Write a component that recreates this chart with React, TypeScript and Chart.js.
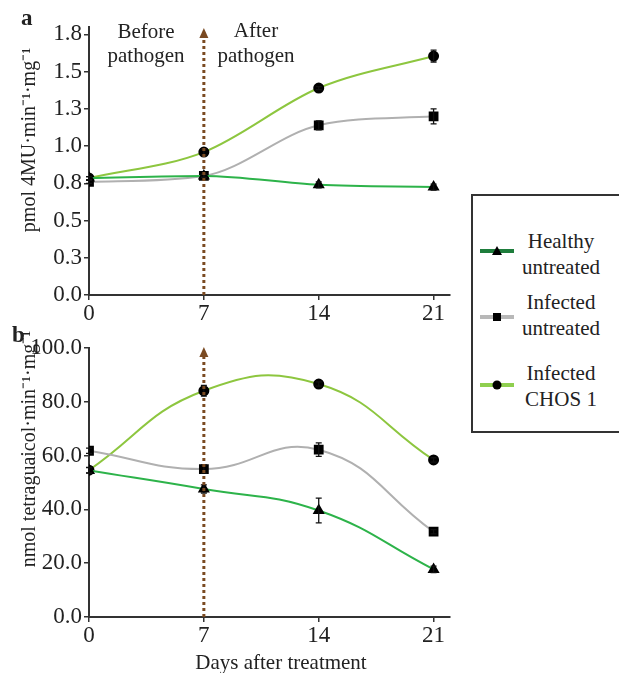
import React, { useEffect, useRef } from "react";
import { Chart, registerables } from "chart.js";
Chart.register(...registerables);

const FONT = '"Liberation Serif", "Times New Roman", serif';

const days = [0, 7, 14, 21];
const xTickLabels = ["0", "7", "14", "21"];
const seriesNames = ["Healthy untreated", "Infected untreated", "Infected CHOS 1"];

// Panel a: pmol 4MU·min-1·mg-1
const aHealthy = [0.785, 0.8, 0.74, 0.725];
const aHealthyErr = [0.01, 0.01, 0.02, 0.02];
const aInfected = [0.76, 0.8, 1.14, 1.2];
const aInfectedErr = [0.01, 0.01, 0.03, 0.05];
const aChos = [0.785, 0.96, 1.39, 1.605];
const aChosErr = [0.01, 0.02, 0.01, 0.04];
const aTicks = [0, 0.25, 0.5, 0.75, 1.0, 1.25, 1.5, 1.75];
const aTickLabels = ["0.0", "0.3", "0.5", "0.8", "1.0", "1.3", "1.5", "1.8"];

// Panel b: nmol tetraguaicol·min-1·mg-1
const bHealthy = [54.5, 47.6, 39.6, 17.7];
const bHealthyErr = [1, 1.5, 4.6, 1.2];
const bInfected = [61.8, 55.0, 62.2, 31.7];
const bInfectedErr = [1, 1.5, 2.5, 0.8];
const bChos = [54.6, 84.1, 86.6, 58.4];
const bChosErr = [1, 2, 0.8, 0.8];
const bTicks = [0, 20, 40, 60, 80, 100];
const bTickLabels = ["0.0", "20.0", "40.0", "60.0", "80.0", "100.0"];

const COL_HEALTHY = "#2db34a";
const COL_INFECTED = "#b0b0b0";
const COL_CHOS = "#8dc63f";
const COL_ARROW = "#7a4a22";

type PanelCfg = {
  healthy: number[];
  healthyErr: number[];
  infected: number[];
  infectedErr: number[];
  chos: number[];
  chosErr: number[];
  yMax: number;
  yTicks: number[];
  yTickLabels: string[];
  yTitle: string;
  yTitleCenter: number;
  letter: string;
  letterX: number;
  letterY: number;
  padTop: number;
  xAxisHeight: number;
  tension: number;
  mode: "default" | "monotone";
  panelA: boolean;
};

function makeChart(canvas: HTMLCanvasElement, p: PanelCfg) {
  const toXY = (arr: number[]) => arr.map((v, i) => ({ x: days[i], y: v }));
  const errs = [p.healthyErr, p.infectedErr, p.chosErr];

  const annot = {
    id: "annot",
    afterDatasetsDraw(chart: any) {
      const ctx = chart.ctx;
      const xs = chart.scales.x;
      const ys = chart.scales.y;
      // error bars
      ctx.save();
      ctx.strokeStyle = "#111";
      ctx.lineWidth = 1.3;
      chart.data.datasets.forEach((ds: any, di: number) => {
        ds.data.forEach((pt: any, i: number) => {
          const e = errs[di][i];
          const x = xs.getPixelForValue(pt.x);
          const y1 = ys.getPixelForValue(pt.y - e);
          const y2 = ys.getPixelForValue(pt.y + e);
          ctx.beginPath();
          ctx.moveTo(x, y1);
          ctx.lineTo(x, y2);
          ctx.moveTo(x - 3, y1);
          ctx.lineTo(x + 3, y1);
          ctx.moveTo(x - 3, y2);
          ctx.lineTo(x + 3, y2);
          ctx.stroke();
        });
      });
      ctx.restore();

      // dotted arrow at day 7
      const ax = xs.getPixelForValue(7);
      const tip = ys.getPixelForValue(p.yMax) + (p.panelA ? 1 : -1);
      const base = tip + 9;
      ctx.save();
      ctx.strokeStyle = COL_ARROW;
      ctx.lineWidth = 3;
      ctx.setLineDash([3, 3]);
      ctx.beginPath();
      ctx.moveTo(ax, chart.chartArea.bottom);
      ctx.lineTo(ax, base);
      ctx.stroke();
      ctx.setLineDash([]);
      ctx.fillStyle = COL_ARROW;
      ctx.beginPath();
      ctx.moveTo(ax, tip);
      ctx.lineTo(ax - 4.5, base + 1);
      ctx.lineTo(ax + 4.5, base + 1);
      ctx.closePath();
      ctx.fill();
      ctx.restore();

      // texts
      ctx.save();
      ctx.fillStyle = "#222";
      ctx.textBaseline = "alphabetic";
      ctx.font = `bold 23px ${FONT}`;
      ctx.textAlign = "left";
      ctx.fillText(p.letter, p.letterX, p.letterY);
      ctx.font = `21px ${FONT}`;
      if (p.panelA) {
        ctx.textAlign = "center";
        ctx.fillText("Before", 146, 38);
        ctx.fillText("pathogen", 146, 62);
        ctx.fillText("After", 256, 37);
        ctx.fillText("pathogen", 256, 62);
      } else {
        ctx.textAlign = "center";
        ctx.fillText("Days after treatment", 281, 349);
      }
      // y title
      ctx.translate(30, p.yTitleCenter);
      ctx.rotate(-Math.PI / 2);
      ctx.textAlign = "center";
      ctx.textBaseline = "middle";
      ctx.font = `20px ${FONT}`;
      ctx.fillText(p.yTitle, 0, 0);
      ctx.restore();
    },
  };

  const tickFont = { family: FONT, size: 23 };

  return new Chart(canvas, {
    type: "line",
    data: {
      datasets: [
        {
          label: seriesNames[0],
          data: toXY(p.healthy),
          borderColor: COL_HEALTHY,
          backgroundColor: "#000",
          pointBackgroundColor: "#000",
          pointBorderColor: "#000",
          pointStyle: "triangle",
          pointRadius: 5,
          borderWidth: 2,
          tension: p.tension,
          cubicInterpolationMode: p.mode,
        },
        {
          label: seriesNames[1],
          data: toXY(p.infected),
          borderColor: COL_INFECTED,
          backgroundColor: "#000",
          pointBackgroundColor: "#000",
          pointBorderColor: "#000",
          pointStyle: "rect",
          pointRadius: 5.5,
          borderWidth: 2,
          tension: p.tension,
          cubicInterpolationMode: p.mode,
        },
        {
          label: seriesNames[2],
          data: toXY(p.chos),
          borderColor: COL_CHOS,
          backgroundColor: "#000",
          pointBackgroundColor: "#000",
          pointBorderColor: "#000",
          pointStyle: "circle",
          pointRadius: 4.5,
          borderWidth: 2,
          tension: p.tension,
          cubicInterpolationMode: p.mode,
        },
      ],
    },
    options: {
      animation: false,
      responsive: false,
      devicePixelRatio: 1,
      layout: { padding: { left: 0, right: 20, top: p.padTop, bottom: 0 } },
      plugins: { legend: { display: false }, tooltip: { enabled: false } },
      scales: {
        x: {
          type: "linear",
          min: 0,
          max: 22,
          afterBuildTicks: (s: any) => {
            s.ticks = days.map((v) => ({ value: v }));
          },
          afterFit: (s: any) => {
            s.height = p.xAxisHeight;
          },
          ticks: {
            font: tickFont,
            color: "#222",
            padding: 0,
            maxRotation: 0,
            autoSkip: false,
            callback: (v: any) => {
              const i = days.indexOf(Number(v));
              return i >= 0 ? xTickLabels[i] : "";
            },
          },
          grid: { drawOnChartArea: false, tickLength: 5, color: "#333", lineWidth: 1.5 },
          border: { color: "#333", width: 2 },
        },
        y: {
          type: "linear",
          min: 0,
          max: p.yMax,
          afterBuildTicks: (s: any) => {
            s.ticks = p.yTicks.map((v) => ({ value: v }));
          },
          afterFit: (s: any) => {
            s.width = 89;
          },
          ticks: {
            font: tickFont,
            color: "#222",
            padding: 2,
            callback: (v: any) => {
              const i = p.yTicks.findIndex((t) => Math.abs(t - Number(v)) < 1e-9);
              return i >= 0 ? p.yTickLabels[i] : "";
            },
          },
          grid: { drawOnChartArea: false, tickLength: 5, color: "#333", lineWidth: 1.5 },
          border: { color: "#333", width: 2 },
        },
      },
    },
    plugins: [annot],
  } as any);
}

function Panel({ cfg, top, height }: { cfg: PanelCfg; top: number; height: number }) {
  const ref = useRef<HTMLCanvasElement | null>(null);
  useEffect(() => {
    if (!ref.current) return;
    const c = makeChart(ref.current, cfg);
    return () => c.destroy();
  }, []);
  return (
    <canvas
      ref={ref}
      width={470}
      height={height}
      style={{ position: "absolute", left: 0, top, width: 470, height }}
    />
  );
}

const panelA: PanelCfg = {
  healthy: aHealthy,
  healthyErr: aHealthyErr,
  infected: aInfected,
  infectedErr: aInfectedErr,
  chos: aChos,
  chosErr: aChosErr,
  yMax: 1.8,
  yTicks: aTicks,
  yTickLabels: aTickLabels,
  yTitle: "pmol 4MU·min⁻¹·mg⁻¹",
  yTitleCenter: 140,
  letter: "a",
  letterX: 21,
  letterY: 25,
  padTop: 27,
  xAxisHeight: 25,
  tension: 0.4,
  mode: "monotone",
  panelA: true,
};

const panelB: PanelCfg = {
  healthy: bHealthy,
  healthyErr: bHealthyErr,
  infected: bInfected,
  infectedErr: bInfectedErr,
  chos: bChos,
  chosErr: bChosErr,
  yMax: 100,
  yTicks: bTicks,
  yTickLabels: bTickLabels,
  yTitle: "nmol tetraguaicol·min⁻¹·mg⁻¹",
  yTitleCenter: 129,
  letter: "b",
  letterX: 12,
  letterY: 22,
  padTop: 28,
  xAxisHeight: 56,
  tension: 0.45,
  mode: "default",
  panelA: false,
};

const legendItems = [
  { lines: ["Healthy", "untreated"], color: "#1e7d3c", marker: "triangle", y: 251, textTop: 229 },
  { lines: ["Infected", "untreated"], color: "#b8b8b8", marker: "rect", y: 317, textTop: 290 },
  { lines: ["Infected", "CHOS 1"], color: "#8fcf4f", marker: "circle", y: 385, textTop: 361 },
];

function Marker({ kind }: { kind: string }) {
  if (kind === "triangle") return <polygon points="17,0 12,9 22,9" fill="#000" />;
  if (kind === "rect") return <rect x={13} y={1} width={8} height={8} fill="#000" />;
  return <circle cx={17} cy={5} r={4.5} fill="#000" />;
}

export default function App() {
  return (
    <div
      style={{
        position: "absolute",
        left: 0,
        top: 0,
        width: 619,
        height: 673,
        overflow: "hidden",
        background: "#fff",
      }}
    >
      <Panel cfg={panelA} top={0} height={320} />
      <Panel cfg={panelB} top={320} height={353} />
      <div
        style={{
          position: "absolute",
          left: 471,
          top: 194,
          width: 170,
          height: 239,
          border: "2px solid #333",
          boxSizing: "border-box",
        }}
      />
      {legendItems.map((it, i) => (
        <React.Fragment key={i}>
          <svg
            width={34}
            height={10}
            style={{ position: "absolute", left: 480, top: it.y - 5 }}
          >
            <line x1={0} y1={5} x2={34} y2={5} stroke={it.color} strokeWidth={4} />
            <Marker kind={it.marker} />
          </svg>
          <div
            style={{
              position: "absolute",
              left: 511,
              top: it.textTop,
              width: 100,
              textAlign: "center",
              fontFamily: FONT,
              fontSize: 21,
              lineHeight: "25.5px",
              color: "#222",
            }}
          >
            {it.lines[0]}
            <br />
            {it.lines[1]}
          </div>
        </React.Fragment>
      ))}
    </div>
  );
}
